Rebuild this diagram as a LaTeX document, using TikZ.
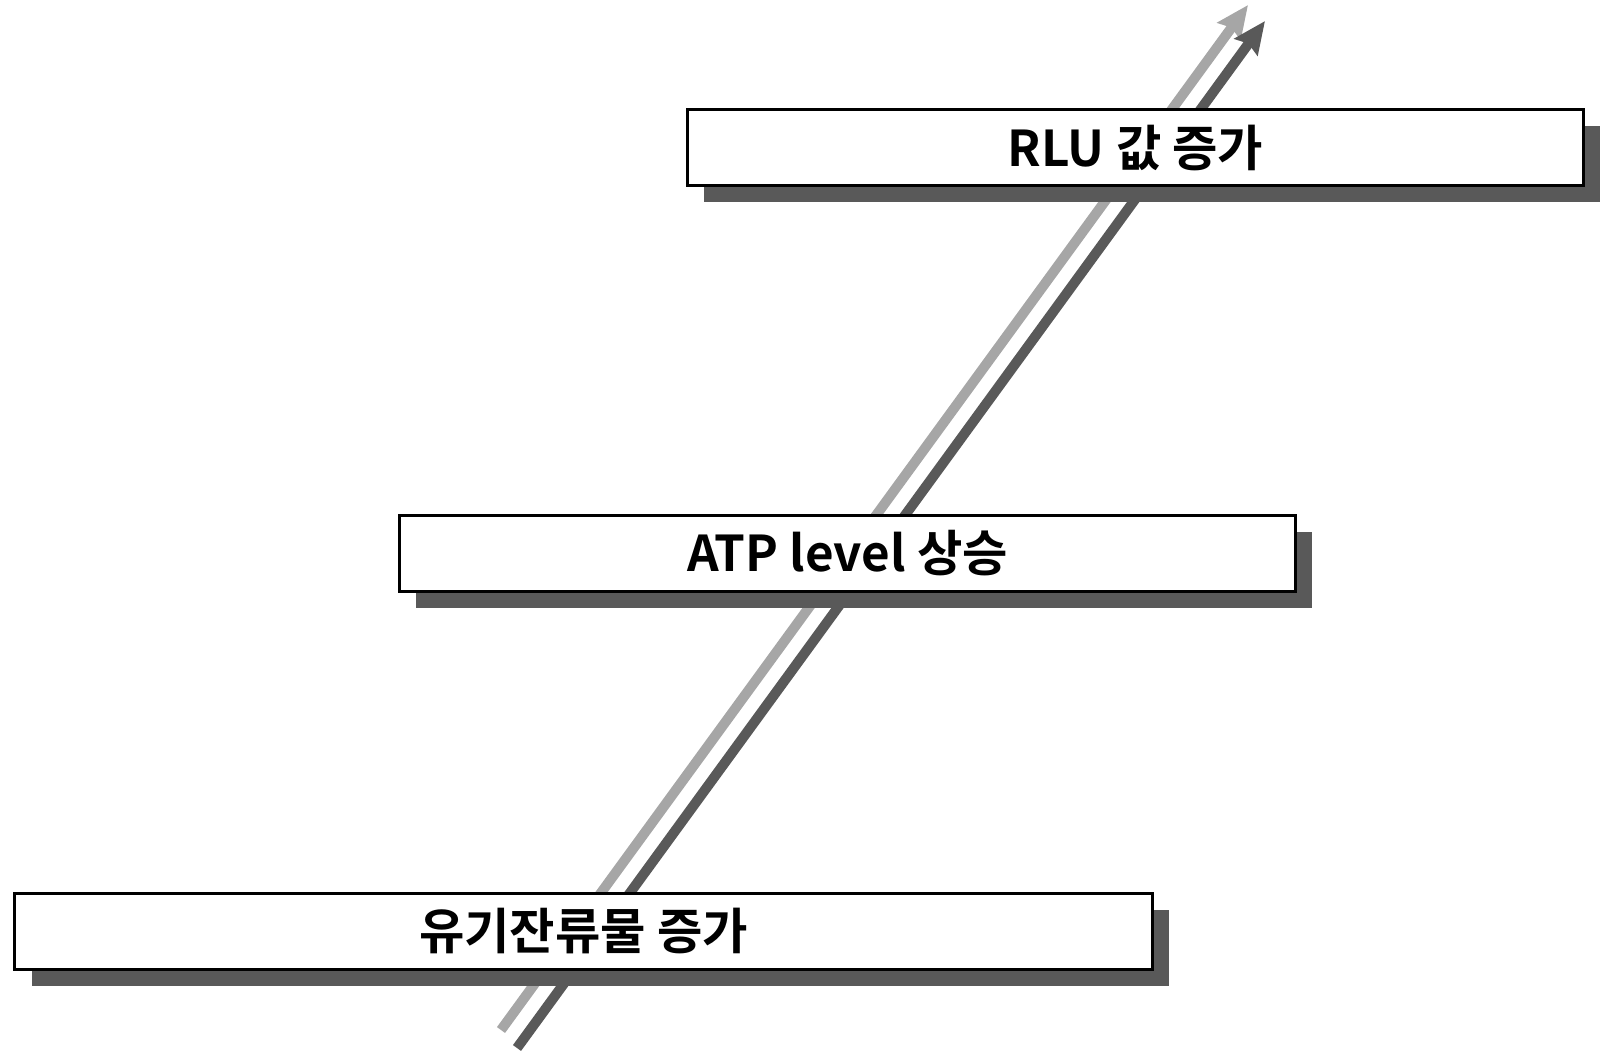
\documentclass[tikz,border=0pt]{standalone}
\usepackage{fontspec}
\setmainfont{Noto Sans CJK KR}[BoldFont={* Bold}]
\usetikzlibrary{arrows.meta,shadows}
\definecolor{lightarrow}{HTML}{A6A6A6}
\definecolor{darkarrow}{HTML}{595959}
\definecolor{shadowgray}{HTML}{595959}
\newcommand{\boxtext}[1]{\raisebox{-3pt}{#1}}
\tikzset{
  stagebox/.style={draw=black, line width=2.25pt, fill=white, inner sep=0pt,
    font=\fontsize{37}{42}\selectfont\bfseries,
    minimum height=57pt,
    drop shadow={shadow xshift=12.5pt, shadow yshift=-12.5pt, fill=shadowgray, opacity=1}},
  risearrow/.style={line width=7.5pt, -{Stealth[length=24pt, width=21pt, inset=3pt]}}
}
\begin{document}
\begin{tikzpicture}[x=0.75pt,y=-0.75pt]
\useasboundingbox (0,0) rectangle (1612,1052);
\coordinate (lt) at (501,1030);
\coordinate (lh) at (1248,5);
\coordinate (dt) at (517,1048);
\coordinate (dh) at (1265,21);
\draw[risearrow, lightarrow] (lt) -- (lh);
\draw[risearrow, darkarrow] (dt) -- (dh);
\node[stagebox, minimum width=672pt] (rlu) at (1135.5,147.5) {\boxtext{RLU 값 증가}};
\node[stagebox, minimum width=672pt] (atp) at (847.5,553) {\boxtext{ATP level 상승}};
\node[stagebox, minimum width=853pt] (org) at (583.5,931) {\boxtext{유기잔류물 증가}};
\end{tikzpicture}
\end{document}
